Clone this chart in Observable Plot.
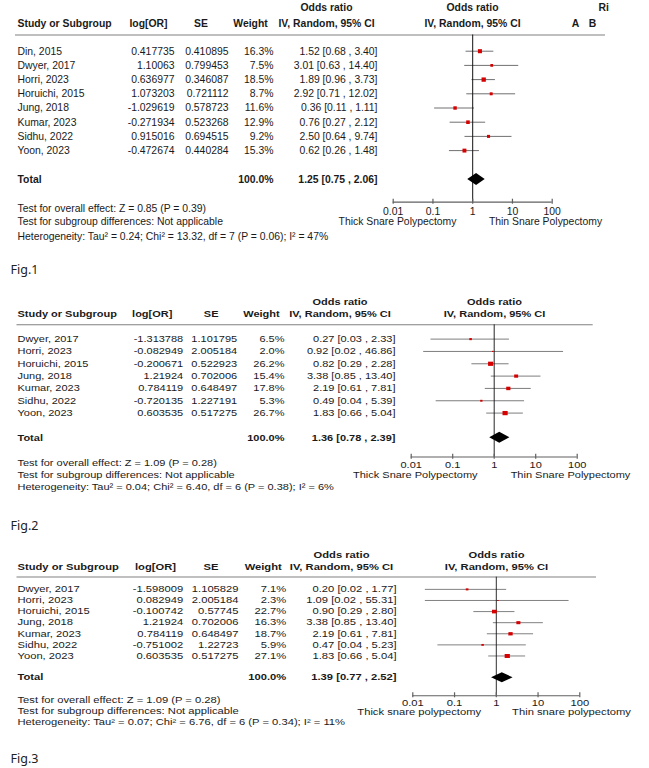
<!DOCTYPE html>
<html>
<head>
<meta charset="utf-8">
<script src="https://cdn.jsdelivr.net/npm/d3@7"></script>
<script src="https://cdn.jsdelivr.net/npm/@observablehq/plot@0.6"></script>
<style>
  html, body { margin: 0; padding: 0; background: white; }
  #chart { position: relative; width: 649px; height: 768px; background: white; overflow: hidden; }
  #chart svg { position: absolute; left: 0; transform-origin: 0 0; }
</style>
</head>
<body>
<div id="chart"></div>
<script>
// ---------------- DATA ----------------
// Fig.1
const fig1Studies = ["Din, 2015", "Dwyer, 2017", "Horri, 2023", "Horuichi, 2015", "Jung, 2018", "Kumar, 2023", "Sidhu, 2022", "Yoon, 2023"];
const fig1LogOR = [0.417735, 1.10063, 0.636977, 1.073203, -1.029619, -0.271934, 0.915016, -0.472674];
const fig1SE = [0.410895, 0.799453, 0.346087, 0.721112, 0.578723, 0.523268, 0.694515, 0.440284];
const fig1Weight = [16.3, 7.5, 18.5, 8.7, 11.6, 12.9, 9.2, 15.3];
const fig1OR = [1.52, 3.01, 1.89, 2.92, 0.36, 0.76, 2.50, 0.62];
const fig1Lo = [0.68, 0.63, 0.96, 0.71, 0.11, 0.27, 0.64, 0.26];
const fig1Hi = [3.40, 14.40, 3.73, 12.02, 1.11, 2.12, 9.74, 1.48];
const fig1Total = [1.25, 0.75, 2.06];
const fig1Stats = [
  "Test for overall effect: Z = 0.85 (P = 0.39)",
  "Test for subgroup differences: Not applicable",
  "Heterogeneity: Tau² = 0.24; Chi² = 13.32, df = 7 (P = 0.06); I² = 47%"
];
const fig1Sides = ["Thick Snare Polypectomy", "Thin Snare Polypectomy"];

// Fig.2
const fig2Studies = ["Dwyer, 2017", "Horri, 2023", "Horuichi, 2015", "Jung, 2018", "Kumar, 2023", "Sidhu, 2022", "Yoon, 2023"];
const fig2LogOR = [-1.313788, -0.082949, -0.200671, 1.21924, 0.784119, -0.720135, 0.603535];
const fig2SE = [1.101795, 2.005184, 0.522923, 0.702006, 0.648497, 1.227191, 0.517275];
const fig2Weight = [6.5, 2.0, 26.2, 15.4, 17.8, 5.3, 26.7];
const fig2OR = [0.27, 0.92, 0.82, 3.38, 2.19, 0.49, 1.83];
const fig2Lo = [0.03, 0.02, 0.29, 0.85, 0.61, 0.04, 0.66];
const fig2Hi = [2.33, 46.86, 2.28, 13.40, 7.81, 5.39, 5.04];
const fig2Total = [1.36, 0.78, 2.39];
const fig2Stats = [
  "Test for overall effect: Z = 1.09 (P = 0.28)",
  "Test for subgroup differences: Not applicable",
  "Heterogeneity: Tau² = 0.04; Chi² = 6.40, df = 6 (P = 0.38); I² = 6%"
];
const fig2Sides = ["Thick Snare Polypectomy", "Thin Snare Polypectomy"];

// Fig.3
const fig3Studies = ["Dwyer, 2017", "Horri, 2023", "Horuichi, 2015", "Jung, 2018", "Kumar, 2023", "Sidhu, 2022", "Yoon, 2023"];
const fig3LogOR = [-1.598009, 0.082949, -0.100742, 1.21924, 0.784119, -0.751002, 0.603535];
const fig3SE = [1.105829, 2.005184, 0.57745, 0.702006, 0.648497, 1.22723, 0.517275];
const fig3Weight = [7.1, 2.3, 22.7, 16.3, 18.7, 5.9, 27.1];
const fig3OR = [0.20, 1.09, 0.90, 3.38, 2.19, 0.47, 1.83];
const fig3Lo = [0.02, 0.02, 0.29, 0.85, 0.61, 0.04, 0.66];
const fig3Hi = [1.77, 55.31, 2.80, 13.40, 7.81, 5.23, 5.04];
const fig3Total = [1.39, 0.77, 2.52];
const fig3Stats = [
  "Test for overall effect: Z = 1.09 (P = 0.28)",
  "Test for subgroup differences: Not applicable",
  "Heterogeneity: Tau² = 0.07; Chi² = 6.76, df = 6 (P = 0.34); I² = 11%"
];
const fig3Sides = ["Thick snare polypectomy", "Thin snare polypectomy"];

const tickValues = [0.01, 0.1, 1, 10, 100];
const tickLabels = ["0.01", "0.1", "1", "10", "100"];
const figLabels = ["Fig.1", "Fig.2", "Fig.3"];
const totalWeightLabel = "100.0%";

// ---------------- LAYOUT ----------------
const W = 649;
const H = 768;
const FONT = "'Liberation Sans', Arial, Helvetica, sans-serif";
const INK = "#1a1a1a";

// sy = vertical squash of the panel (the reference panels were scaled unevenly)
const layouts = [
  {top: 0, h: 262, sy: 1, fs: 10.4, h1: 7.5, h2: 23, hline: 34.5, hx1: 15, hx2: 605,
   row0: 50.7, step: 14.2, totalY: 179, axisY: 201.7, tickLabY: 211, sideY: 221,
   footY: [208.3, 221, 236],
   colLog: 174, colLogH: 148, colSE: 228, colSEH: 200.5, colW: 273, colWH: 250,
   colOR: 377, colORH: 326, forestH: 472, x001: 392.7, x100: 551.7,
   sideX: [397, 545], dH: 6, extra: true},
  {top: 280, h: 230, sy: 0.82, fs: 11, h1: 301.7, h2: 313.7, hline: 324.3, hx1: 16.5, hx2: 592.7,
   row0: 338.7, step: 12.33, totalY: 437.3, axisY: 456.7, tickLabY: 465, sideY: 474.3,
   footY: [462.7, 474.3, 486.7],
   colLog: 182.7, colLogH: 151.7, colSE: 236.7, colSEH: 210.7, colW: 284, colWH: 261,
   colOR: 395, colORH: 339.5, forestH: 494, x001: 410.7, x100: 576.7,
   sideX: [414.8, 570], dH: 5.5, extra: false},
  {top: 540, h: 200, sy: 0.76, fs: 11.2, h1: 555, h2: 566.7, hline: 576.7, hx1: 16.5, hx2: 596,
   row0: 589, step: 11.1, totalY: 677.3, axisY: 695.3, tickLabY: 703.3, sideY: 711.7,
   footY: [700, 711, 721.7],
   colLog: 182.7, colLogH: 155, colSE: 238, colSEH: 210.5, colW: 285.7, colWH: 262.7,
   colOR: 396, colORH: 341, forestH: 496, x001: 412.3, x100: 579.3,
   sideX: [418.7, 571], dH: 5, extra: false}
];
const figLabelY = [269, 525, 758];

const figData = [
  {studies: fig1Studies, logOR: fig1LogOR, se: fig1SE, weight: fig1Weight, or: fig1OR, lo: fig1Lo, hi: fig1Hi, total: fig1Total, stats: fig1Stats, sides: fig1Sides},
  {studies: fig2Studies, logOR: fig2LogOR, se: fig2SE, weight: fig2Weight, or: fig2OR, lo: fig2Lo, hi: fig2Hi, total: fig2Total, stats: fig2Stats, sides: fig2Sides},
  {studies: fig3Studies, logOR: fig3LogOR, se: fig3SE, weight: fig3Weight, or: fig3OR, lo: fig3Lo, hi: fig3Hi, total: fig3Total, stats: fig3Stats, sides: fig3Sides}
];

const chart = document.getElementById("chart");
const fmtCI = (o, l, h) => `${o.toFixed(2)} [${l.toFixed(2)} , ${h.toFixed(2)}]`;

function buildPanel(L, d) {
  const rows = d.studies.map((s, i) => ({
    study: s, logOR: d.logOR[i], se: d.se[i], w: d.weight[i],
    or: d.or[i], lo: d.lo[i], hi: d.hi[i], y: L.row0 + i * L.step
  }));
  const T = (data, opts) => Plot.text(data, {fill: INK, fontSize: L.fs, ...opts});
  const B = (data, opts) => T(data, {fontWeight: "bold", ...opts});
  const hIn = L.h / L.sy; // svg height before the vertical squash
  const yScale = {type: "linear", domain: [L.top, L.top + L.h], range: [0, hIn], axis: null};
  const style = {fontFamily: FONT, fontSize: L.fs + "px", background: "transparent", overflow: "visible"};

  const tableMarks = [
    B(["Odds ratio"], {x: L.colORH, y: L.h1, text: t => t}),
    B(["Odds ratio"], {x: L.forestH, y: L.h1, text: t => t}),
    B(["Study or Subgroup"], {x: 17, y: L.h2, text: t => t, textAnchor: "start"}),
    B(["log[OR]"], {x: L.colLogH, y: L.h2, text: t => t}),
    B(["SE"], {x: L.colSEH, y: L.h2, text: t => t}),
    B(["Weight"], {x: L.colWH, y: L.h2, text: t => t}),
    B(["IV, Random, 95% CI"], {x: L.colORH, y: L.h2, text: t => t}),
    B(["IV, Random, 95% CI"], {x: L.forestH, y: L.h2, text: t => t}),
    Plot.ruleY([L.hline], {x1: L.hx1, x2: L.hx2, stroke: "#808080", strokeWidth: 1.2}),
    T(rows, {x: 17, y: "y", text: "study", textAnchor: "start"}),
    T(rows, {x: L.colLog, y: "y", text: r => String(r.logOR), textAnchor: "end"}),
    T(rows, {x: L.colSE, y: "y", text: r => String(r.se), textAnchor: "end"}),
    T(rows, {x: L.colW, y: "y", text: r => r.w.toFixed(1) + "%", textAnchor: "end"}),
    T(rows, {x: L.colOR, y: "y", text: r => fmtCI(r.or, r.lo, r.hi), textAnchor: "end"}),
    B(["Total"], {x: 17, y: L.totalY, text: t => t, textAnchor: "start"}),
    B([totalWeightLabel], {x: L.colW, y: L.totalY, text: t => t, textAnchor: "end"}),
    B([fmtCI(d.total[0], d.total[1], d.total[2])], {x: L.colOR, y: L.totalY, text: t => t, textAnchor: "end"}),
    T(d.stats, {x: 17, y: (s, i) => L.footY[i], text: s => s, textAnchor: "start"}),
    T(d.sides, {x: (s, i) => L.sideX[i], y: L.sideY, text: s => s})
  ];
  if (L.extra) {
    tableMarks.push(
      B(["Ri"], {x: 598, y: L.h1, text: t => t, textAnchor: "start"}),
      B(["A"], {x: 575, y: L.h2, text: t => t}),
      B(["B"], {x: 592, y: L.h2, text: t => t})
    );
  }

  const table = Plot.plot({
    width: W, height: hIn, margin: 0,
    x: {type: "linear", domain: [0, W], range: [0, W], axis: null},
    y: yScale, style, marks: tableMarks
  });

  const t = d.total;
  const yc = L.totalY;
  const diamond = [
    {x: t[1], y1: yc, y2: yc},
    {x: t[0], y1: yc - L.dH, y2: yc + L.dH},
    {x: t[2], y1: yc, y2: yc}
  ];

  const forest = Plot.plot({
    width: W, height: hIn, margin: 0,
    x: {type: "log", domain: [0.01, 100], range: [L.x001, L.x100], axis: null},
    y: yScale,
    r: {type: "sqrt", domain: [0, 30], range: [0, 3.1]},
    style,
    marks: [
      Plot.ruleY(rows, {y: "y", x1: "lo", x2: "hi", stroke: "#707070", strokeWidth: 1}),
      Plot.ruleX([1], {y1: L.hline, y2: L.axisY, stroke: "#111", strokeWidth: 1}),
      Plot.dot(rows, {x: "or", y: "y", r: "w", symbol: "square", fill: "#d60000"}),
      Plot.area(diamond, {x1: "x", y1: "y1", y2: "y2", fill: "#000"}),
      Plot.ruleY([L.axisY], {x1: tickValues[0], x2: tickValues[tickValues.length - 1], stroke: "#606060", strokeWidth: 1.2}),
      Plot.ruleX(tickValues, {x: v => v, y1: L.axisY - 3, y2: L.axisY + 2, stroke: "#606060", strokeWidth: 1.2}),
      Plot.text(tickValues, {x: v => v, y: L.tickLabY, text: (v, i) => tickLabels[i], fill: INK, fontSize: L.fs})
    ]
  });

  for (const svg of [table, forest]) {
    svg.style.top = L.top + "px";
    if (L.sy !== 1) svg.style.transform = `scaleY(${L.sy})`;
    chart.appendChild(svg);
  }
}

layouts.forEach((L, i) => buildPanel(L, figData[i]));

// figure captions (not squashed)
const captions = Plot.plot({
  width: W, height: H, margin: 0,
  x: {type: "linear", domain: [0, W], range: [0, W], axis: null},
  y: {type: "linear", domain: [0, H], range: [0, H], axis: null},
  style: {background: "transparent", overflow: "visible"},
  marks: [
    Plot.text(figLabels, {x: 10, y: (s, i) => figLabelY[i], text: s => s, textAnchor: "start",
      fill: "#222", fontFamily: "'Noto Sans', 'Open Sans', sans-serif", fontSize: 12.5})
  ]
});
captions.style.top = "0px";
chart.appendChild(captions);
</script>
</body>
</html>
